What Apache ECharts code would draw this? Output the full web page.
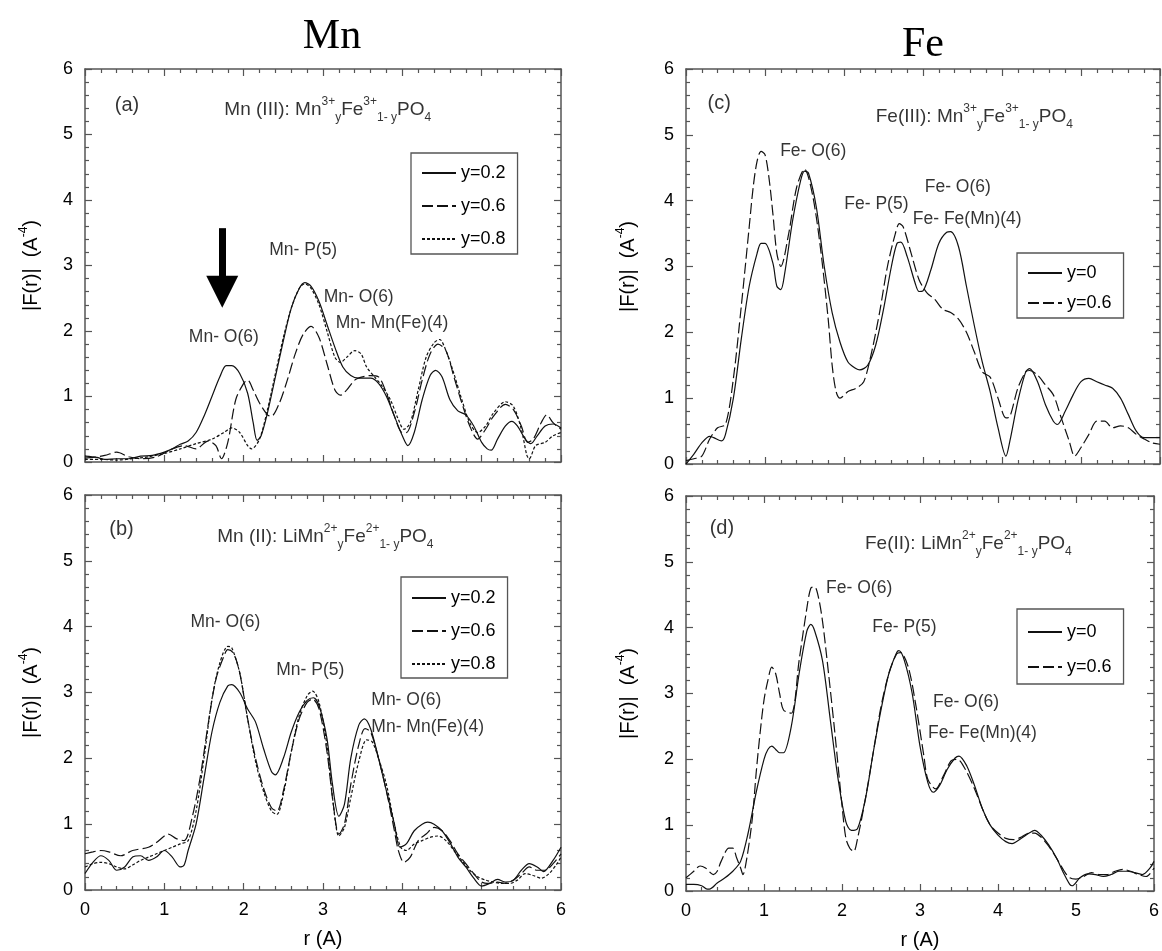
<!DOCTYPE html>
<html><head><meta charset="utf-8">
<script src="https://cdn.jsdelivr.net/npm/echarts@6/dist/echarts.min.js"></script>
<style>html,body{margin:0;padding:0;background:#fff}#c{width:1162px;height:951px}</style>
</head><body><div id="c"></div>
<script>
// ---------------- data ----------------
const xTicks = [0, 1, 2, 3, 4, 5, 6];
const yTicks = [0, 1, 2, 3, 4, 5, 6];

// panel (a) Mn(III)
const a_y02 = [[0,0.09],[0.15,0.07],[0.25,0.04],[0.4,0.05],[0.55,0.05],[0.7,0.09],[0.85,0.1],[1.0,0.15],[1.1,0.2],[1.2,0.27],[1.3,0.32],[1.4,0.45],[1.5,0.7],[1.6,1.0],[1.7,1.3],[1.78,1.47],[1.85,1.47],[1.95,1.35],[2.05,1.05],[2.12,0.6],[2.17,0.33],[2.22,0.4],[2.3,0.75],[2.4,1.3],[2.5,1.85],[2.6,2.35],[2.7,2.65],[2.77,2.74],[2.85,2.68],[2.95,2.45],[3.05,2.1],[3.15,1.75],[3.25,1.45],[3.35,1.32],[3.45,1.28],[3.6,1.28],[3.7,1.2],[3.8,1.0],[3.9,0.7],[4.0,0.4],[4.07,0.25],[4.15,0.45],[4.25,0.95],[4.35,1.32],[4.42,1.4],[4.5,1.3],[4.6,0.95],[4.7,0.78],[4.8,0.72],[4.9,0.55],[5.0,0.3],[5.07,0.2],[5.12,0.18],[5.2,0.35],[5.3,0.55],[5.38,0.62],[5.45,0.55],[5.55,0.35],[5.62,0.28],[5.7,0.4],[5.8,0.55],[5.9,0.58],[6.0,0.52]];
const a_y06 = [[0,0.06],[0.1,0.07],[0.25,0.1],[0.4,0.15],[0.55,0.08],[0.7,0.05],[0.9,0.08],[1.1,0.2],[1.25,0.25],[1.4,0.2],[1.55,0.32],[1.65,0.25],[1.72,0.05],[1.8,0.3],[1.9,0.95],[2.0,1.2],[2.05,1.25],[2.12,1.1],[2.2,0.9],[2.3,0.72],[2.35,0.7],[2.45,0.9],[2.55,1.25],[2.65,1.65],[2.75,1.95],[2.85,2.07],[2.95,1.9],[3.05,1.5],[3.15,1.1],[3.22,1.02],[3.3,1.1],[3.4,1.25],[3.5,1.3],[3.6,1.32],[3.7,1.3],[3.8,1.05],[3.9,0.7],[4.0,0.45],[4.05,0.45],[4.15,0.75],[4.25,1.25],[4.35,1.65],[4.45,1.8],[4.55,1.7],[4.65,1.3],[4.75,0.9],[4.85,0.55],[4.95,0.35],[5.05,0.5],[5.15,0.7],[5.3,0.88],[5.4,0.8],[5.5,0.55],[5.58,0.3],[5.65,0.35],[5.75,0.6],[5.82,0.72],[5.9,0.6],[6.0,0.5]];
const a_y08 = [[0,0.04],[0.2,0.04],[0.4,0.03],[0.6,0.05],[0.8,0.08],[1.0,0.13],[1.2,0.2],[1.4,0.28],[1.6,0.35],[1.75,0.45],[1.85,0.52],[1.95,0.45],[2.05,0.25],[2.1,0.2],[2.2,0.35],[2.3,0.8],[2.4,1.35],[2.5,1.9],[2.6,2.35],[2.7,2.65],[2.77,2.72],[2.85,2.65],[2.95,2.4],[3.05,2.0],[3.15,1.6],[3.22,1.52],[3.3,1.6],[3.4,1.7],[3.48,1.65],[3.55,1.45],[3.65,1.3],[3.75,1.15],[3.85,0.95],[3.95,0.65],[4.02,0.5],[4.1,0.6],[4.2,1.1],[4.3,1.6],[4.4,1.82],[4.47,1.87],[4.55,1.7],[4.65,1.35],[4.75,0.95],[4.85,0.6],[4.95,0.45],[5.05,0.55],[5.15,0.75],[5.3,0.92],[5.4,0.85],[5.5,0.5],[5.57,0.1],[5.6,0.05],[5.68,0.25],[5.8,0.3],[5.9,0.4],[6.0,0.45]];

// panel (b) Mn(II)
const b_y02 = [[0,0.25],[0.1,0.42],[0.2,0.52],[0.3,0.45],[0.4,0.3],[0.5,0.35],[0.6,0.5],[0.7,0.52],[0.8,0.45],[0.9,0.5],[1.0,0.6],[1.1,0.5],[1.2,0.35],[1.25,0.38],[1.3,0.6],[1.4,1.0],[1.5,1.7],[1.6,2.4],[1.7,2.85],[1.8,3.1],[1.85,3.12],[1.95,3.0],[2.05,2.75],[2.15,2.55],[2.25,2.15],[2.35,1.8],[2.4,1.75],[2.5,2.0],[2.6,2.4],[2.7,2.7],[2.8,2.88],[2.88,2.92],[2.95,2.8],[3.05,2.3],[3.12,1.6],[3.2,1.12],[3.27,1.3],[3.35,2.0],[3.45,2.5],[3.52,2.6],[3.6,2.45],[3.7,2.0],[3.8,1.5],[3.9,1.0],[3.97,0.65],[4.05,0.7],[4.15,0.9],[4.25,1.0],[4.32,1.03],[4.4,1.0],[4.5,0.9],[4.6,0.72],[4.7,0.5],[4.8,0.35],[4.9,0.18],[5.0,0.06],[5.1,0.1],[5.2,0.16],[5.3,0.12],[5.4,0.15],[5.5,0.3],[5.6,0.4],[5.7,0.35],[5.78,0.28],[5.9,0.45],[6.0,0.65]];
const b_y06 = [[0,0.55],[0.1,0.58],[0.2,0.6],[0.3,0.58],[0.45,0.52],[0.6,0.6],[0.8,0.65],[0.9,0.72],[1.0,0.82],[1.05,0.85],[1.15,0.78],[1.25,0.75],[1.35,1.1],[1.45,1.7],[1.55,2.5],[1.65,3.2],[1.75,3.55],[1.8,3.65],[1.87,3.6],[1.95,3.3],[2.05,2.6],[2.15,2.0],[2.25,1.55],[2.35,1.25],[2.42,1.2],[2.5,1.5],[2.6,2.1],[2.7,2.6],[2.8,2.85],[2.87,2.9],[2.95,2.75],[3.05,2.1],[3.13,1.3],[3.2,0.85],[3.27,1.0],[3.35,1.6],[3.45,2.2],[3.53,2.45],[3.6,2.4],[3.7,2.0],[3.8,1.5],[3.9,0.9],[3.95,0.6],[4.02,0.42],[4.1,0.5],[4.2,0.75],[4.3,0.85],[4.4,0.95],[4.5,0.9],[4.6,0.75],[4.7,0.55],[4.8,0.4],[4.9,0.25],[5.0,0.12],[5.1,0.1],[5.2,0.12],[5.3,0.1],[5.4,0.15],[5.5,0.25],[5.6,0.35],[5.7,0.3],[5.8,0.3],[5.9,0.4],[6.0,0.55]];
const b_y08 = [[0,0.35],[0.1,0.4],[0.2,0.42],[0.3,0.4],[0.4,0.35],[0.5,0.32],[0.6,0.38],[0.7,0.45],[0.8,0.5],[0.9,0.55],[1.0,0.6],[1.1,0.65],[1.2,0.7],[1.3,0.75],[1.4,1.2],[1.5,2.0],[1.6,2.9],[1.7,3.45],[1.8,3.7],[1.85,3.68],[1.95,3.3],[2.05,2.6],[2.15,1.95],[2.25,1.5],[2.35,1.2],[2.42,1.15],[2.5,1.45],[2.6,2.1],[2.7,2.65],[2.8,2.95],[2.87,3.02],[2.95,2.85],[3.05,2.2],[3.13,1.3],[3.2,0.82],[3.27,0.95],[3.35,1.4],[3.45,1.95],[3.55,2.28],[3.62,2.25],[3.7,2.0],[3.8,1.6],[3.9,1.0],[3.98,0.65],[4.05,0.6],[4.15,0.7],[4.25,0.75],[4.35,0.8],[4.45,0.82],[4.55,0.75],[4.65,0.6],[4.75,0.45],[4.85,0.3],[4.95,0.2],[5.05,0.15],[5.15,0.12],[5.25,0.1],[5.35,0.1],[5.45,0.15],[5.55,0.25],[5.65,0.22],[5.75,0.18],[5.85,0.25],[5.95,0.4],[6.0,0.5]];

// panel (c) Fe(III)
const c_y0 = [[0,0.0],[0.1,0.15],[0.2,0.32],[0.3,0.42],[0.35,0.4],[0.45,0.35],[0.5,0.45],[0.6,1.0],[0.7,1.9],[0.8,2.7],[0.9,3.2],[0.95,3.35],[1.0,3.35],[1.1,3.05],[1.15,2.7],[1.2,2.65],[1.25,2.9],[1.35,3.7],[1.45,4.3],[1.5,4.45],[1.55,4.42],[1.65,3.9],[1.75,3.0],[1.85,2.3],[1.95,1.85],[2.05,1.55],[2.15,1.45],[2.2,1.43],[2.3,1.5],[2.4,1.8],[2.5,2.35],[2.6,3.0],[2.67,3.35],[2.72,3.37],[2.8,3.15],[2.9,2.75],[2.95,2.62],[3.0,2.63],[3.1,2.95],[3.2,3.35],[3.3,3.52],[3.35,3.53],[3.45,3.3],[3.55,2.7],[3.65,2.1],[3.75,1.55],[3.85,1.1],[3.95,0.55],[4.05,0.12],[4.1,0.35],[4.2,0.95],[4.3,1.4],[4.35,1.45],[4.45,1.25],[4.55,0.9],[4.65,0.65],[4.7,0.6],[4.8,0.8],[4.9,1.05],[5.0,1.25],[5.1,1.3],[5.2,1.25],[5.3,1.2],[5.4,1.15],[5.5,1.0],[5.6,0.75],[5.7,0.5],[5.8,0.4],[5.9,0.4],[6.0,0.4]];
const c_y06 = [[0,0.05],[0.1,0.08],[0.2,0.12],[0.3,0.38],[0.4,0.55],[0.5,0.6],[0.6,1.3],[0.7,2.4],[0.8,3.6],[0.85,4.2],[0.9,4.6],[0.95,4.75],[1.0,4.7],[1.05,4.35],[1.1,3.8],[1.15,3.2],[1.2,3.0],[1.3,3.5],[1.4,4.2],[1.5,4.48],[1.6,4.1],[1.7,3.3],[1.8,2.2],[1.85,1.5],[1.9,1.1],[1.95,1.0],[2.05,1.1],[2.15,1.15],[2.25,1.25],[2.35,1.7],[2.45,2.3],[2.55,3.0],[2.65,3.5],[2.7,3.65],[2.75,3.6],[2.85,3.2],[2.95,2.8],[3.05,2.6],[3.15,2.5],[3.25,2.35],[3.35,2.3],[3.45,2.2],[3.55,2.0],[3.65,1.7],[3.75,1.4],[3.85,1.32],[3.95,1.0],[4.05,0.7],[4.1,0.72],[4.2,1.15],[4.3,1.4],[4.35,1.42],[4.45,1.35],[4.55,1.2],[4.65,1.05],[4.75,0.7],[4.85,0.35],[4.92,0.12],[5.0,0.25],[5.1,0.45],[5.2,0.65],[5.3,0.65],[5.4,0.55],[5.5,0.58],[5.6,0.55],[5.7,0.45],[5.8,0.38],[5.9,0.32],[6.0,0.3]];

// panel (d) Fe(II)
const d_y0 = [[0,0.1],[0.1,0.1],[0.2,0.08],[0.27,0.03],[0.3,0.03],[0.4,0.12],[0.5,0.2],[0.6,0.3],[0.7,0.45],[0.8,0.9],[0.9,1.5],[1.0,2.0],[1.05,2.15],[1.1,2.2],[1.15,2.15],[1.2,2.1],[1.25,2.1],[1.35,2.5],[1.45,3.3],[1.55,3.95],[1.6,4.05],[1.65,3.95],[1.75,3.5],[1.85,2.6],[1.95,1.7],[2.05,1.05],[2.12,0.92],[2.2,0.95],[2.3,1.4],[2.4,2.1],[2.5,2.75],[2.6,3.3],[2.7,3.62],[2.73,3.65],[2.8,3.5],[2.9,3.0],[3.0,2.2],[3.1,1.65],[3.17,1.5],[3.25,1.6],[3.35,1.85],[3.45,2.02],[3.5,2.05],[3.6,1.9],[3.7,1.6],[3.8,1.25],[3.9,1.0],[4.0,0.85],[4.1,0.75],[4.18,0.72],[4.3,0.8],[4.4,0.88],[4.47,0.92],[4.55,0.85],[4.65,0.7],[4.75,0.5],[4.85,0.25],[4.92,0.1],[4.95,0.08],[5.05,0.2],[5.15,0.26],[5.25,0.25],[5.35,0.22],[5.45,0.25],[5.55,0.3],[5.65,0.3],[5.75,0.28],[5.85,0.25],[5.95,0.35],[6.0,0.45]];
const d_y06 = [[0,0.2],[0.1,0.3],[0.18,0.38],[0.25,0.35],[0.35,0.25],[0.4,0.3],[0.45,0.45],[0.55,0.65],[0.6,0.65],[0.65,0.5],[0.7,0.35],[0.73,0.25],[0.78,0.5],[0.85,1.1],[0.9,1.8],[0.95,2.4],[1.0,2.9],[1.05,3.2],[1.1,3.4],[1.15,3.3],[1.2,3.0],[1.25,2.75],[1.35,2.7],[1.45,3.5],[1.55,4.3],[1.6,4.6],[1.65,4.62],[1.7,4.45],[1.75,4.1],[1.8,3.6],[1.9,2.5],[2.0,1.3],[2.05,0.8],[2.1,0.65],[2.15,0.6],[2.2,0.8],[2.3,1.4],[2.4,2.1],[2.5,2.8],[2.6,3.3],[2.7,3.6],[2.75,3.62],[2.85,3.4],[2.95,2.8],[3.05,2.05],[3.1,1.7],[3.2,1.55],[3.3,1.75],[3.4,1.98],[3.48,2.0],[3.58,1.85],[3.7,1.55],[3.8,1.25],[3.9,1.0],[4.0,0.88],[4.1,0.8],[4.2,0.78],[4.3,0.82],[4.4,0.88],[4.47,0.88],[4.55,0.82],[4.65,0.68],[4.75,0.5],[4.85,0.3],[4.92,0.2],[5.0,0.18],[5.1,0.22],[5.2,0.28],[5.3,0.25],[5.4,0.25],[5.5,0.3],[5.6,0.33],[5.7,0.3],[5.8,0.25],[5.9,0.22],[6.0,0.35]];

const columnTitles = ['Mn', 'Fe'];
const panelTags = ['(a)', '(b)', '(c)', '(d)'];
const legendA = ['y=0.2', 'y=0.6', 'y=0.8'];
const legendC = ['y=0', 'y=0.6'];

// ---------------- styles / layout ----------------
const FRAME = '#555';
const INK = '#111';
const SANS = 'Liberation Sans, Arial, sans-serif';
const SERIF = 'Liberation Serif, Times New Roman, serif';
const dashStyles = { 'y=0.2': 'solid', 'y=0': 'solid', 'y=0.6': [11, 4], 'y=0.8': [3, 2] };

const grids = [
  { left: 85, top: 69, width: 476, height: 393 },
  { left: 85, top: 495, width: 476, height: 395 },
  { left: 686, top: 69, width: 474, height: 395 },
  { left: 686, top: 496, width: 474, height: 395 }
];
const showXLabels = [false, true, false, true];
const yNameGap = [41, 41, 45, 45];

const tickCommon = {
  axisTick: { show: true, inside: true, length: 7, lineStyle: { color: FRAME, width: 1.2 } },
  minorTick: { show: true, splitNumber: 5, length: 4, lineStyle: { color: FRAME, width: 1.2 } },
  splitLine: { show: false },
  minorSplitLine: { show: false },
  axisLine: { show: true, onZero: false, lineStyle: { color: FRAME, width: 1.5 } }
};

const xAxes = [], yAxes = [];
grids.forEach((g, i) => {
  xAxes.push(Object.assign({
    gridIndex: i, type: 'value', position: 'bottom',
    min: xTicks[0], max: xTicks[xTicks.length - 1], interval: 1,
    axisLabel: { show: showXLabels[i], fontSize: 18, color: '#000', margin: 11, fontFamily: SANS },
    name: showXLabels[i] ? 'r (A)' : '', nameLocation: 'middle', nameGap: 39,
    nameTextStyle: { fontSize: 20, color: '#000', fontFamily: SANS }
  }, tickCommon));
  xAxes.push(Object.assign({
    gridIndex: i, type: 'value', position: 'top',
    min: xTicks[0], max: xTicks[xTicks.length - 1], interval: 1,
    axisLabel: { show: false }
  }, tickCommon));
  yAxes.push(Object.assign({
    gridIndex: i, type: 'value', position: 'left',
    min: yTicks[0], max: yTicks[yTicks.length - 1], interval: 1,
    axisLabel: { show: true, fontSize: 18, color: '#000', margin: 12, fontFamily: SANS },
    name: '|F(r)|  (A{sup|-4})', nameLocation: 'middle', nameRotate: 90, nameGap: yNameGap[i],
    nameTextStyle: { fontSize: 20, color: '#000', fontFamily: SANS, lineHeight: 26,
      rich: { sup: { fontSize: 12, fontFamily: SANS, color: '#000', verticalAlign: 'top', lineHeight: 12 } } }
  }, tickCommon));
  yAxes.push(Object.assign({
    gridIndex: i, type: 'value', position: 'right',
    min: yTicks[0], max: yTicks[yTicks.length - 1], interval: 1,
    axisLabel: { show: false }
  }, tickCommon));
});

function curve(name, data, panel) {
  return {
    type: 'line', name: name, data: data,
    xAxisIndex: panel * 2, yAxisIndex: panel * 2,
    symbol: 'none', showSymbol: false, smooth: 0.3,
    lineStyle: { color: INK, width: 1.2, type: dashStyles[name] },
    itemStyle: { color: INK },
    silent: true, z: 3
  };
}

const formulaRich = {
  m: { fontSize: 19, fontFamily: SANS, color: '#000', lineHeight: 28 },
  sup: { fontSize: 12, fontFamily: SANS, color: '#000', verticalAlign: 'top', lineHeight: 12 },
  sub: { fontSize: 12, fontFamily: SANS, color: '#000', verticalAlign: 'bottom', lineHeight: 12 }
};
const formulas = [
  '{m|Mn (III): Mn}{sup|3+}{sub|y}{m|Fe}{sup|3+}{sub|1- y}{m|PO}{sub|4}',
  '{m|Mn (II): LiMn}{sup|2+}{sub|y}{m|Fe}{sup|2+}{sub|1- y}{m|PO}{sub|4}',
  '{m|Fe(III): Mn}{sup|3+}{sub|y}{m|Fe}{sup|3+}{sub|1- y}{m|PO}{sub|4}',
  '{m|Fe(II): LiMn}{sup|2+}{sub|y}{m|Fe}{sup|2+}{sub|1- y}{m|PO}{sub|4}'
];
// annotation anchor points in data coordinates [r, |F|]
const tagPos = [[0.53, 5.45], [0.46, 5.47], [0.42, 5.48], [0.46, 5.51]];
const formulaPos = [[3.06, 5.38], [3.03, 5.36], [3.65, 5.28], [3.62, 5.27]];
const peakNotes = [
  [['Mn- O(6)', 1.75, 1.91], ['Mn- P(5)', 2.75, 3.24], ['Mn- O(6)', 3.45, 2.52], ['Mn- Mn(Fe)(4)', 3.87, 2.12]],
  [['Mn- O(6)', 1.77, 4.07], ['Mn- P(5)', 2.84, 3.34], ['Mn- O(6)', 4.05, 2.89], ['Mn- Mn(Fe)(4)', 4.32, 2.48]],
  [['Fe- O(6)', 1.61, 4.75], ['Fe- P(5)', 2.41, 3.94], ['Fe- O(6)', 3.44, 4.20], ['Fe- Fe(Mn)(4)', 3.56, 3.72]],
  [['Fe- O(6)', 2.22, 4.60], ['Fe- P(5)', 2.80, 4.01], ['Fe- O(6)', 3.59, 2.87], ['Fe- Fe(Mn)(4)', 3.80, 2.40]]
];

function notes(panel) {
  const data = [];
  data.push({ value: tagPos[panel], name: panelTags[panel], label: { fontSize: 20 } });
  data.push({ value: formulaPos[panel], name: '', label: { formatter: formulas[panel], rich: formulaRich } });
  peakNotes[panel].forEach(n => data.push({ value: [n[1], n[2]], name: n[0] }));
  const s = {
    type: 'scatter', xAxisIndex: panel * 2, yAxisIndex: panel * 2,
    symbolSize: 0, silent: true, z: 6, data: data,
    label: { show: true, position: 'inside', formatter: '{b}', color: '#000', fontSize: 17.5, fontFamily: SANS }
  };
  if (panel === 0) {
    s.markLine = {
      silent: true, symbol: ['none', 'triangle'], symbolSize: 32,
      lineStyle: { color: '#000', width: 7, type: 'solid', opacity: 1 },
      itemStyle: { color: '#000' },
      label: { show: false },
      data: [[{ coord: [1.73, 3.57] }, { coord: [1.73, 2.6] }]]
    };
  }
  return s;
}

const series = [
  curve('y=0.2', a_y02, 0), curve('y=0.6', a_y06, 0), curve('y=0.8', a_y08, 0),
  curve('y=0.2', b_y02, 1), curve('y=0.6', b_y06, 1), curve('y=0.8', b_y08, 1),
  curve('y=0', c_y0, 2), curve('y=0.6', c_y06, 2),
  curve('y=0', d_y0, 3), curve('y=0.6', d_y06, 3),
  notes(0), notes(1), notes(2), notes(3)
];

function legend(names, left, top, padding, gap) {
  return {
    data: names, orient: 'vertical', left: left, top: top, padding: padding,
    itemGap: gap, itemWidth: 34, itemHeight: 14, selectedMode: false,
    borderColor: FRAME, borderWidth: 1.3, backgroundColor: '#fff',
    itemStyle: { opacity: 0 },
    textStyle: { fontSize: 18, color: '#000', fontFamily: SANS, lineHeight: 20 }
  };
}

const option = {
  animation: false,
  backgroundColor: '#fff',
  title: [
    { text: columnTitles[0], left: 327, top: 32, textAlign: 'center', textVerticalAlign: 'middle',
      textStyle: { fontFamily: SERIF, fontSize: 42, fontWeight: 'normal', color: '#000' } },
    { text: columnTitles[1], left: 918, top: 40, textAlign: 'center', textVerticalAlign: 'middle',
      textStyle: { fontFamily: SERIF, fontSize: 42, fontWeight: 'normal', color: '#000' } }
  ],
  grid: grids.map(g => Object.assign({ containLabel: false, show: false }, g)),
  xAxis: xAxes,
  yAxis: yAxes,
  legend: [
    legend(legendA, 411, 153, [10, 12, 5, 10], 13),
    legend(legendA, 401, 577, [11, 12, 4, 10], 13),
    legend(legendC, 1017, 253, [10, 12, 5, 10], 10),
    legend(legendC, 1017, 609, [13, 12, 7, 10], 15)
  ],
  series: series
};

const chart = echarts.init(document.getElementById('c'), null, { renderer: 'canvas' });
chart.setOption(option);
</script>
</body></html>
